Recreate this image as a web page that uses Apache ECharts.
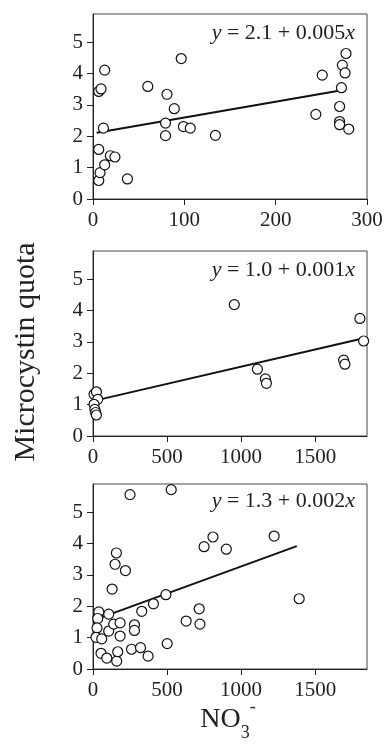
<!DOCTYPE html>
<html>
<head>
<meta charset="utf-8">
<script src="https://cdn.jsdelivr.net/npm/echarts@6/dist/echarts.min.js"></script>
<style>
  html, body { margin: 0; padding: 0; background: #fff; }
  #chart { width: 387px; height: 744px; }
</style>
</head>
<body>
<div id="chart"></div>
<script>
// panel 1 (x up to 300)
var x1 = [6.3, 7.7, 12.8, 6.3, 19, 24, 37.7, 11.4, 6.3, 8.8, 12.8, 60, 81, 89, 79.4, 79.4, 96.6, 99, 106.5, 134,
  244, 251, 277, 273, 276, 272, 270, 270, 270, 280];
var y1 = [0.59, 0.84, 1.09, 1.58, 1.38, 1.34, 0.64, 2.26, 3.43, 3.51, 4.11, 3.59, 3.34, 2.88, 2.42, 2.02, 4.48, 2.31, 2.26, 2.03,
  2.70, 3.95, 4.64, 4.27, 4.02, 3.55, 2.95, 2.47, 2.37, 2.23];
// panel 2
var x2 = [7, 23, 32, 7, 12, 18, 23, 954, 1110, 1164, 1171, 1692, 1701, 1802, 1827];
var y2 = [1.33, 1.41, 1.17, 1.01, 0.85, 0.75, 0.67, 4.19, 2.13, 1.82, 1.68, 2.42, 2.29, 3.75, 3.03];
// panel 3
var x3 = [250, 528, 158, 149, 219, 129, 492, 408, 329, 106, 39, 32, 27, 20, 59, 106, 140, 183, 183, 280, 280,
  629, 717, 722, 501, 54, 93, 160, 167, 260, 321, 372, 750, 810, 900, 1223, 1392];
var y3 = [5.56, 5.72, 3.70, 3.34, 3.14, 2.55, 2.37, 2.08, 1.84, 1.75, 1.82, 1.61, 1.31, 1.01, 0.96, 1.21, 1.43, 1.47, 1.05, 1.41, 1.23,
  1.53, 1.92, 1.43, 0.81, 0.50, 0.35, 0.25, 0.55, 0.63, 0.68, 0.41, 3.90, 4.21, 3.82, 4.24, 2.24];

// fitted lines as drawn (end points)
var fitX1 = [4, 277], fitY1 = [2.11, 3.49];
var fitX2 = [5, 1827], fitY2 = [1.12, 3.12];
var fitX3 = [30, 1376], fitY3 = [1.6, 3.92];

var intercepts = ['2.1', '1.0', '1.3'];
var slopes = ['0.005', '0.001', '0.002'];

var yTicks = [0, 1, 2, 3, 4, 5];
var xTicks1 = [0, 100, 200, 300];
var xTicks23 = [0, 500, 1000, 1500];
var xMax = [300, 1850, 1850];

var FONT = '"Liberation Serif", "Times New Roman", serif';

function pairs(xs, ys) {
  return xs.map(function (x, i) { return [x, ys[i]]; });
}
function plain(v) { return String(v); }

var chart = echarts.init(document.getElementById('chart'));

var tops = [14, 251, 484];
var grids = tops.map(function (t) {
  return { left: 93, right: 20, top: t, height: 185, show: true, borderColor: '#444', borderWidth: 1, backgroundColor: 'transparent' };
});

var xAxes = [0, 1, 2].map(function (i) {
  var ticks = i === 0 ? xTicks1 : xTicks23;
  return {
    type: 'value', gridIndex: i, min: 0, max: xMax[i],
    axisLine: { show: true, onZero: false, lineStyle: { color: '#222', width: 1 } },
    axisTick: { show: true, inside: false, length: 6, customValues: ticks, lineStyle: { color: '#222' } },
    axisLabel: { customValues: ticks, formatter: plain, margin: 11, color: '#222', fontSize: 21, fontFamily: FONT },
    splitLine: { show: false }
  };
});

var yAxes = [0, 1, 2].map(function (i) {
  return {
    type: 'value', gridIndex: i, min: 0, max: 5.9,
    axisLine: { show: true, onZero: false, lineStyle: { color: '#222', width: 1 } },
    axisTick: { show: true, inside: false, length: 6, customValues: yTicks, lineStyle: { color: '#222' } },
    axisLabel: { customValues: yTicks, formatter: plain, margin: 10, color: '#222', fontSize: 21, fontFamily: FONT },
    splitLine: { show: false }
  };
});

var pts = [pairs(x1, y1), pairs(x2, y2), pairs(x3, y3)];
var fits = [pairs(fitX1, fitY1), pairs(fitX2, fitY2), pairs(fitX3, fitY3)];

var series = [];
[0, 1, 2].forEach(function (i) {
  series.push({
    type: 'line', xAxisIndex: i, yAxisIndex: i, data: fits[i],
    showSymbol: false, symbol: 'none', z: 2,
    lineStyle: { color: '#111', width: 2 }
  });
  series.push({
    type: 'scatter', xAxisIndex: i, yAxisIndex: i, data: pts[i],
    symbol: 'circle', symbolSize: 10, z: 3,
    itemStyle: { color: '#fff', borderColor: '#111', borderWidth: 1.2, opacity: 1 }
  });
});

var eqOffsets = [20, 20, 18];
var graphics = [0, 1, 2].map(function (i) {
  return {
    type: 'text', right: 32, top: tops[i] + eqOffsets[i] - 12,
    style: {
      text: '{i|y} = ' + intercepts[i] + ' + ' + slopes[i] + '{i|x}',
      font: '22px ' + FONT, fill: '#222',
      rich: { i: { fontStyle: 'italic', fontSize: 22, fontFamily: FONT, fill: '#222' } }
    }
  };
});

graphics.push({
  type: 'text', x: 41, y: 352, rotation: Math.PI / 2,
  style: {
    text: 'Microcystin quota', font: '30px ' + FONT, fill: '#222',
    textAlign: 'center', textVerticalAlign: 'bottom'
  }
});

graphics.push({
  type: 'text', x: 228, y: 734,
  style: {
    text: 'NO{sub|3}{sup|-}', font: '28px ' + FONT, fill: '#222',
    textAlign: 'center', textVerticalAlign: 'bottom',
    rich: {
      sub: { fontSize: 18, fontFamily: FONT, fill: '#222', verticalAlign: 'bottom', padding: [0, 0, -8, 0] },
      sup: { fontSize: 18, fontFamily: FONT, fill: '#222', verticalAlign: 'top', padding: [-8, 0, 0, 0] }
    }
  }
});

chart.setOption({
  animation: false,
  backgroundColor: '#fff',
  grid: grids,
  xAxis: xAxes,
  yAxis: yAxes,
  series: series,
  graphic: graphics
});
</script>
</body>
</html>
